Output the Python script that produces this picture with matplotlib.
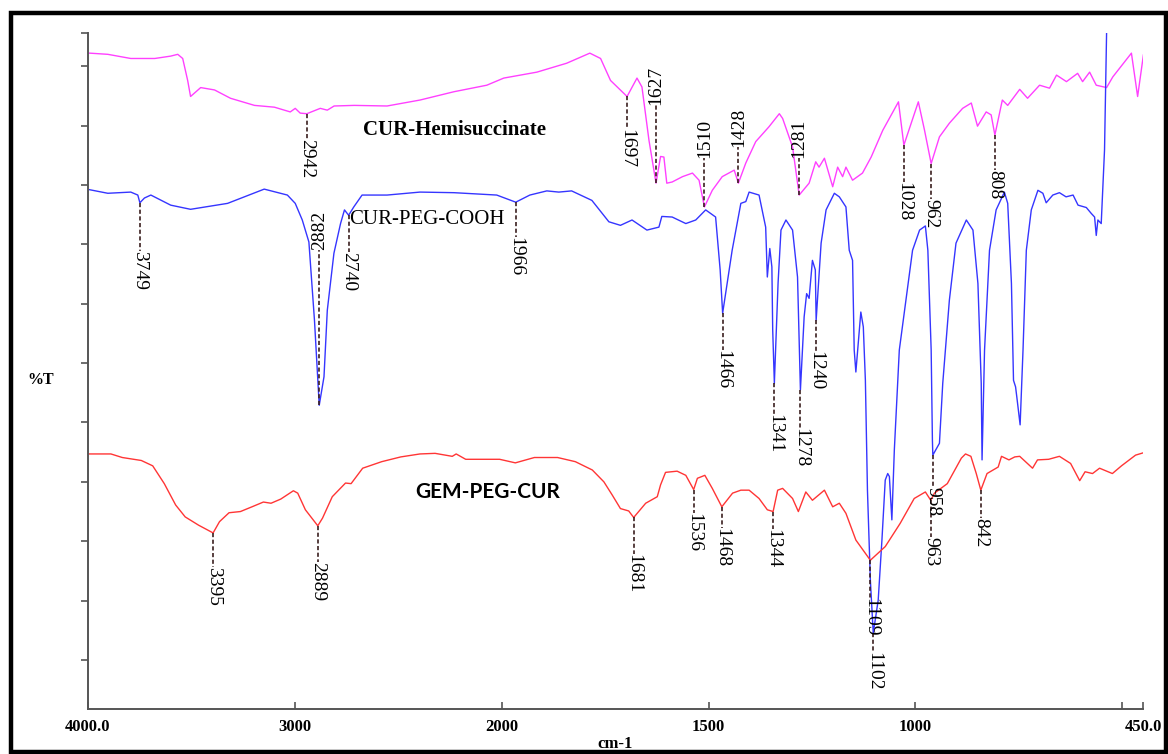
"""
ftir_overlay.py
FTIR overlay of the three curcumin conjugates with marked bands.
"""
import numpy as np
import matplotlib
matplotlib.use("Agg")
import matplotlib.pyplot as plt
from matplotlib.patches import Rectangle

# CUR-Hemisuccinate (wavenumber cm-1, %T)
hemi_wn = [3992, 3904, 3793, 3677, 3600, 3566, 3542, 3518, 3504, 3455,
           3388, 3311, 3195, 3099, 3022, 2998, 2974, 2942, 2877, 2843,
           2810, 2713, 2554, 2395, 2231, 2072, 1995, 1915, 1843, 1787,
           1761, 1737, 1697, 1673, 1661, 1644, 1627, 1616, 1608, 1601,
           1588, 1563, 1539, 1523, 1510, 1491, 1467, 1438, 1428, 1410,
           1386, 1354, 1329, 1321, 1297, 1281, 1257, 1241, 1233, 1220,
           1200, 1188, 1176, 1168, 1152, 1128, 1107, 1079, 1041, 1028,
           993, 978, 962, 942, 918, 886, 865, 850, 829, 817,
           808, 790, 777, 748, 729, 700, 676, 659, 635, 608,
           596, 579, 563, 538, 523, 478, 463, 449]
hemi_t = [102.2, 102.0, 101.3, 101.3, 101.7, 102.0, 101.3, 97.6, 94.9, 96.4,
          96.0, 94.6, 93.4, 93.1, 92.3, 92.9, 92.1, 92.0, 92.9, 92.6,
          93.3, 93.4, 93.3, 94.3, 95.7, 96.8, 98.0, 99.0, 100.5, 102.2,
          101.3, 97.6, 94.9, 98.0, 96.5, 87.5, 80.3, 84.8, 84.7, 80.3,
          80.5, 81.4, 82.0, 80.8, 76.3, 79.1, 81.4, 82.5, 80.3, 83.7,
          87.3, 89.8, 92.0, 91.2, 86.4, 78.3, 80.3, 83.9, 83.0, 84.5,
          79.7, 83.0, 81.4, 83.0, 80.8, 82.0, 84.7, 89.2, 94.0, 86.7,
          94.0, 89.2, 83.6, 88.1, 90.4, 92.9, 93.8, 89.9, 92.3, 91.8,
          88.4, 94.3, 93.4, 96.1, 94.6, 96.8, 96.3, 98.5, 97.4, 98.8,
          97.4, 99.0, 96.8, 96.4, 98.2, 102.2, 94.9, 101.9]

# CUR-PEG-COOH
peg_wn = [3992, 3904, 3793, 3759, 3749, 3727, 3696, 3600, 3504, 3325,
          3148, 3036, 2998, 2964, 2932, 2905, 2882, 2859, 2843, 2811,
          2779, 2760, 2740, 2715, 2675, 2554, 2395, 2231, 2024, 1966,
          1932, 1891, 1862, 1831, 1782, 1741, 1713, 1685, 1649, 1620,
          1613, 1588, 1555, 1531, 1507, 1483, 1472, 1466, 1455, 1443,
          1422, 1410, 1402, 1378, 1362, 1358, 1352, 1347, 1345, 1341,
          1332, 1325, 1313, 1297, 1285, 1278, 1269, 1263, 1257, 1249,
          1242, 1240, 1228, 1216, 1196, 1184, 1168, 1160, 1152, 1148,
          1144, 1132, 1126, 1121, 1116, 1109, 1102, 1090, 1081, 1073,
          1067, 1063, 1057, 1051, 1039, 1023, 1007, 990, 976, 970,
          962, 959, 958, 947, 942, 934, 918, 902, 877, 861,
          849, 841, 839, 833, 821, 805, 785, 777, 768, 763,
          758, 755, 747, 740, 732, 720, 704, 692, 684, 668,
          652, 636, 619, 607, 587, 575, 567, 563, 559, 551,
          547, 543, 538]
peg_t = [79.2, 78.6, 78.8, 78.3, 77.0, 77.8, 78.3, 76.6, 75.9, 76.9,
         79.3, 78.3, 76.9, 74.1, 70.4, 57.2, 42.9, 47.7, 58.9, 68.5,
         73.5, 75.8, 74.9, 76.3, 78.3, 78.3, 78.8, 78.7, 78.3, 77.1,
         78.3, 79.0, 78.8, 79.0, 77.4, 73.8, 73.2, 74.1, 72.4, 72.9,
         74.7, 74.6, 73.5, 74.1, 75.8, 74.6, 65.7, 58.4, 63.5, 69.0,
         76.9, 77.2, 78.8, 78.3, 72.9, 64.5, 69.3, 66.2, 55.6, 46.6,
         63.5, 72.4, 74.1, 72.4, 64.5, 45.5, 57.8, 61.7, 60.9, 67.3,
         65.7, 57.2, 70.2, 75.8, 78.6, 78.0, 76.3, 69.0, 67.3, 52.2,
         48.5, 58.6, 56.1, 47.1, 28.6, 13.5, 4.5, 10.1, 20.2, 30.3,
         31.4, 30.9, 23.6, 35.4, 52.2, 60.6, 69.0, 72.4, 73.1, 69.0,
         52.2, 37.0, 34.5, 35.9, 36.5, 46.6, 60.6, 70.2, 74.1, 72.4,
         63.4, 46.6, 33.7, 52.2, 69.0, 75.8, 78.8, 76.9, 63.4, 47.1,
         46.0, 44.3, 39.6, 52.2, 69.0, 75.8, 79.1, 78.6, 77.0, 78.3,
         78.7, 78.0, 78.3, 76.6, 76.2, 75.2, 74.6, 71.5, 74.1, 73.5,
         79.7, 85.9, 105.7]

# GEM-PEG-CUR
gem_wn = [3994, 3889, 3834, 3742, 3687, 3631, 3576, 3530, 3465, 3395,
          3364, 3318, 3263, 3207, 3152, 3115, 3068, 3007, 2986, 2949,
          2889, 2866, 2819, 2755, 2728, 2672, 2580, 2488, 2395, 2322,
          2239, 2220, 2174, 2010, 1967, 1921, 1865, 1822, 1781, 1753,
          1733, 1713, 1693, 1681, 1652, 1624, 1616, 1604, 1576, 1555,
          1536, 1527, 1509, 1491, 1468, 1442, 1422, 1402, 1378, 1358,
          1344, 1333, 1321, 1297, 1283, 1265, 1249, 1220, 1200, 1184,
          1168, 1144, 1109, 1073, 1037, 1003, 976, 963, 954, 923,
          889, 879, 866, 853, 842, 827, 800, 792, 774, 760,
          748, 717, 705, 678, 652, 625, 603, 590, 572, 555,
          524, 502, 468, 449]
gem_t = [34.7, 34.7, 34.1, 33.6, 32.7, 29.7, 26.1, 24.1, 22.7, 21.4,
         23.3, 24.8, 25.0, 25.8, 26.6, 26.4, 27.1, 28.5, 28.1, 25.3,
         22.6, 23.9, 27.5, 29.8, 29.7, 32.3, 33.4, 34.2, 34.7, 34.8,
         34.3, 34.7, 33.8, 33.8, 33.2, 34.1, 34.1, 33.4, 32.0, 30.0,
         27.8, 25.5, 25.1, 24.0, 26.4, 27.5, 29.5, 31.6, 31.8, 31.1,
         28.7, 30.6, 31.1, 28.9, 25.8, 28.1, 28.6, 28.6, 27.2, 25.3,
         25.0, 28.6, 28.9, 27.2, 25.0, 28.3, 26.9, 28.6, 25.8, 26.4,
         24.7, 20.2, 16.8, 19.1, 23.0, 27.2, 28.3, 26.9, 28.1, 29.7,
         34.0, 34.7, 34.3, 31.4, 28.6, 31.4, 32.5, 34.3, 33.7, 34.2,
         34.3, 32.3, 33.7, 33.8, 34.3, 33.1, 30.2, 31.7, 31.4, 32.3,
         31.4, 32.7, 34.5, 34.9]

# marked bands; dash > 0 runs the leader down, dash < 0 runs it up
hemi_peaks = [2942, 1697, 1627, 1510, 1428, 1281, 1028, 962, 808]
hemi_dash = [4.2, 5.5, -13.1, -8.2, -6.1, -6.2, 6.2, 5.9, 5.9]
peg_peaks = [3749, 2882, 2740, 1966, 1466, 1341, 1278, 1240, 1102, 958]
peg_dash = [8.2, -26.1, 6.2, 5.9, 6.2, 5.1, 6.4, 5.1, 3.2, 5.4]
gem_peaks = [3395, 2889, 1681, 1536, 1468, 1344, 1109, 963, 842]
gem_dash = [5.7, 6.1, 6.1, 3.9, 3.5, 3.0, 6.4, 6.2, 4.7]

xticks = [4000, 3000, 2000, 1500, 1000, 500, 450]
xticklabels = ['4000.0', '3000', '2000', '1500', '1000', '', '450.0']

SERIF = 'Liberation Serif'


def fwd(x):
    # region above 2000 cm-1 is drawn at half scale
    x = np.asarray(x, dtype=float)
    return np.where(x > 2000, 2000 + (x - 2000) / 2.0, x)


def inv(y):
    y = np.asarray(y, dtype=float)
    return np.where(y > 2000, 2000 + (y - 2000) * 2.0, y)


def markPeaks(ax, wn, t, peaks, dash):
    """dashed leader plus rotated wavenumber for every band"""
    wn = np.asarray(wn)[::-1]
    t = np.asarray(t)[::-1]
    for p, d in zip(peaks, dash):
        y0 = np.interp(p, wn, t)
        y1 = y0 - d
        ax.plot([p, p], [y0, y1], color='#3b1f1f', lw=1.2,
                ls=(0, (2.5, 1.5)), zorder=3)
        if d > 0:
            ax.text(p, y1, str(p), rotation=270, ha='center', va='top',
                    fontsize=14, family=SERIF, zorder=4)
        else:
            ax.text(p, y1, str(p), rotation=90, ha='center', va='bottom',
                    fontsize=14, family=SERIF, zorder=4)


fig = plt.figure(figsize=(11.68, 7.54), dpi=100)
ax = fig.add_axes([0.0753, 0.0597, 0.9033, 0.8966])
ax.set_xscale('function', functions=(fwd, inv))

ax.plot(hemi_wn, hemi_t, color='#ff40ff', lw=1.0)
ax.plot(peg_wn, peg_t, color='#3535ff', lw=1.0)
ax.plot(gem_wn, gem_t, color='#ff3535', lw=1.0)

markPeaks(ax, hemi_wn, hemi_t, hemi_peaks, hemi_dash)
markPeaks(ax, peg_wn, peg_t, peg_peaks, peg_dash)
markPeaks(ax, gem_wn, gem_t, gem_peaks, gem_dash)

ax.text(2227, 89.2, 'CUR-Hemisuccinate', ha='center', va='center',
        fontsize=15, fontweight='bold', family=SERIF)
ax.text(2737, 74.1, 'CUR-PEG-COOH', ha='left', va='center',
        fontsize=15, family=SERIF)
ax.text(2068, 28.3, 'GEM-PEG-CUR', ha='center', va='center',
        fontsize=15, fontweight='bold', family='Lato')

ax.set_xlim(4000, 450)
ax.set_ylim(-8.25, 105.6)
ax.set_xticks(xticks)
ax.set_xticklabels(xticklabels, family=SERIF, fontweight='bold', fontsize=12)
ax.set_yticks(list(range(0, 101, 10)) + [105.6])
ax.tick_params(axis='x', direction='in', length=5, width=1.2, pad=7,
               color='#555555')
ax.tick_params(axis='y', direction='out', length=5, width=1.2,
               labelleft=False, color='#555555')
ax.minorticks_off()
for s in ['top', 'right']:
    ax.spines[s].set_visible(False)
for s in ['left', 'bottom']:
    ax.spines[s].set_color('#555555')
    ax.spines[s].set_linewidth(1.4)

ax.set_xlabel('cm-1', family=SERIF, fontweight='bold', fontsize=12,
              labelpad=1)
fig.text(41 / 1168, 1 - 380 / 754, '%T', ha='center', va='center',
         family=SERIF, fontweight='bold', fontsize=11.5)

# frame round the whole figure
fig.patches.append(Rectangle((11 / 1168, 2 / 754), 1155 / 1168, 739 / 754,
                             transform=fig.transFigure, fill=False,
                             edgecolor='black', lw=3.2))

fig.savefig('out.png', dpi=100)
